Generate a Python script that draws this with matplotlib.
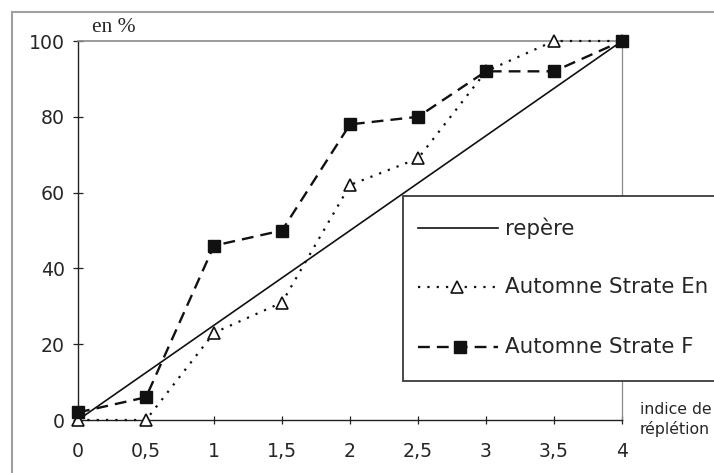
import matplotlib
matplotlib.use("Agg")
import matplotlib.pyplot as plt
from matplotlib.lines import Line2D
from matplotlib.patches import Rectangle

# Cumulative distribution of the repletion index (in %)
x = [0, 0.5, 1, 1.5, 2, 2.5, 3, 3.5, 4]
repere = [0, 12.5, 25, 37.5, 50, 62.5, 75, 87.5, 100]
strate_en = [0, 0, 23, 31, 62, 69, 92, 100, 100]
strate_f = [2, 6, 46, 50, 78, 80, 92, 92, 100]
xtick_labels = ["0", "0,5", "1", "1,5", "2", "2,5", "3", "3,5", "4"]
yticks = [0, 20, 40, 60, 80, 100]
series_labels = ["repère", "Automne Strate En", "Automne Strate F"]

W, H = 714, 473
fig = plt.figure(figsize=(W / 100, H / 100), dpi=100)
fig.patch.set_facecolor("white")
TEXT = "#262626"


def fx(px):
    return px / W


def fy(py):
    return 1 - py / H


ax = fig.add_axes([fx(78), fy(420), (622 - 78) / W, (420 - 41) / H])
ax.set_xlim(0, 4)
ax.set_ylim(0, 100)

ax.plot(x, repere, color="#111111", lw=1.2, clip_on=False, zorder=3)
ax.plot(x, strate_en, color="#111111", lw=1.6, linestyle=(0, (1, 3.2)),
        marker="^", markersize=8, markerfacecolor="white",
        markeredgecolor="#111111", markeredgewidth=1.2, clip_on=False, zorder=4)
ax.plot(x, strate_f, color="#111111", lw=1.7, linestyle=(0, (5, 3)),
        marker="s", markersize=9, markerfacecolor="#111111",
        markeredgecolor="#111111", clip_on=False, zorder=5)

# Axes frame: black left/bottom, light grey top/right
for side in ("left", "bottom"):
    ax.spines[side].set_color("#222222")
    ax.spines[side].set_linewidth(1.0)
ax.spines["top"].set_color("#8a8a8a")
ax.spines["top"].set_linestyle((0, (1, 1)))
ax.spines["top"].set_linewidth(1.2)
ax.spines["right"].set_color("#8a8a8a")
ax.spines["right"].set_linewidth(0.9)

ax.set_xticks(x)
ax.set_xticklabels(xtick_labels)
ax.set_yticks(yticks)
ax.tick_params(axis="x", direction="inout", length=6, width=0.9,
               pad=13, labelsize=13.6, colors="#222222", labelcolor=TEXT)
ax.tick_params(axis="y", direction="inout", length=7, width=0.9,
               pad=6, labelsize=13.6, colors="#222222", labelcolor=TEXT)

# Outer frame around the whole chart
fig.add_artist(Rectangle((fx(12), -0.1), 1.2, fy(12) + 0.1,
                         transform=fig.transFigure, fill=False,
                         edgecolor="#a0a0a0", lw=1.5, zorder=1))

fig.text(fx(92), fy(28), "en %", family="Liberation Serif", fontsize=15.5,
         va="center", ha="left", color=TEXT)
fig.text(fx(640), fy(419.5), "indice de\nréplétion", fontsize=11.3,
         va="center", ha="left", linespacing=1.35, color=TEXT)

# Legend box
fig.add_artist(Rectangle((fx(403), fy(381)), 1.0, (381 - 196) / H,
                         transform=fig.transFigure, facecolor="white",
                         edgecolor="#3a3a3a", lw=1.3, zorder=6))
rows = [228, 287, 347]
hx0, hx1 = fx(418), fx(498)
fig.add_artist(Line2D([hx0, hx1], [fy(rows[0])] * 2, transform=fig.transFigure,
                      color="#111111", lw=1.2, zorder=7))
fig.add_artist(Line2D([hx0, hx1], [fy(rows[1])] * 2, transform=fig.transFigure,
                      color="#111111", lw=1.6, linestyle=(0, (1, 3.2)), zorder=7))
fig.add_artist(Line2D([fx(457)], [fy(rows[1])], transform=fig.transFigure,
                      marker="^", markersize=8, markerfacecolor="white",
                      markeredgecolor="#111111", markeredgewidth=1.2,
                      linestyle="none", zorder=8))
fig.add_artist(Line2D([hx0, hx1], [fy(rows[2])] * 2, transform=fig.transFigure,
                      color="#111111", lw=1.7, linestyle=(0, (5, 3)), zorder=7))
fig.add_artist(Line2D([fx(460)], [fy(rows[2])], transform=fig.transFigure,
                      marker="s", markersize=9, markerfacecolor="#111111",
                      markeredgecolor="#111111", linestyle="none", zorder=8))
for row, label in zip(rows, series_labels):
    t = fig.text(fx(505), fy(row), label, fontsize=15.4, va="center",
                 ha="left", color=TEXT)
    t.set_zorder(8)

fig.savefig("out.png", dpi=100, facecolor="white")
